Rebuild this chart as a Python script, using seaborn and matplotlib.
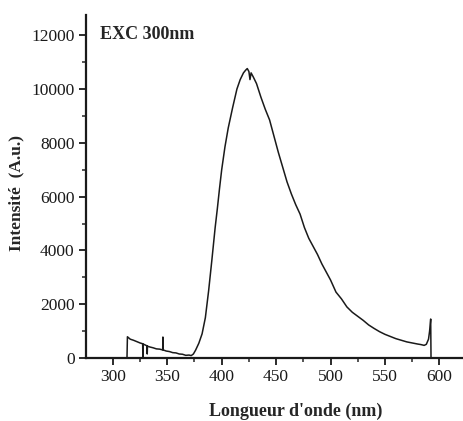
"""
Emission spectrum, excitation at 300 nm.
Values read off the scanned figure by eye.
"""
import numpy as np
import pandas as pd
import seaborn as sns
from matplotlib import pyplot as plt
from matplotlib.ticker import MultipleLocator

# wavelength (nm) and intensity (a.u.)
wavelength = [313.0, 313.4, 316, 319, 322, 325, 327.4, 327.6, 327.8, 330, 331.4, 331.6, 331.8,
              334, 337, 340, 343, 345.8, 346.0, 346.3, 349, 352, 355, 358, 361, 364, 367,
              370, 372, 374, 376, 379, 382, 385, 388, 391, 394, 396, 398, 400, 403, 406,
              410, 414, 417, 420, 422, 423.5, 425, 426, 427, 429, 432, 436, 440, 444, 448,
              452, 456, 460, 464, 468, 472, 476, 480, 484, 488, 492, 496, 500, 505, 510,
              515, 520, 525, 530, 535, 540, 545, 550, 555, 560, 565, 570, 575, 580, 583,
              586, 588, 590, 591, 592, 592.3]
intensity = [0, 790, 700, 660, 610, 560, 530, 0, 520, 480, 450, 150, 440,
             410, 380, 340, 330, 300, 780, 300, 260, 240, 200, 190, 150, 140, 100,
             110, 90, 150, 290, 550, 900, 1500, 2500, 3650, 4850, 5550, 6300, 7000, 7850, 8550,
             9300, 10000, 10350, 10600, 10700, 10760, 10650, 10350, 10600, 10450, 10200, 9700, 9250, 8850, 8250,
             7650, 7100, 6550, 6100, 5700, 5350, 4850, 4450, 4150, 3850, 3500, 3200, 2900, 2450, 2200,
             1900, 1700, 1550, 1400, 1230, 1100, 980, 880, 800, 720, 660, 600, 560, 520, 500,
             470, 510, 700, 1000, 1450, 0]

x_ticks = [300, 350, 400, 450, 500, 550, 600]
y_ticks = [0, 2000, 4000, 6000, 8000, 10000, 12000]

df = pd.DataFrame({'wl': wavelength, 'I': intensity})

sns.set_style('ticks')
plt.rcParams['font.family'] = ['Liberation Serif', 'DejaVu Serif']

fig = plt.figure(figsize=(4.64, 4.21), dpi=100)
ax = fig.add_axes([0.185, 0.1496, 0.815, 0.8147])

sns.lineplot(data=df, x='wl', y='I', ax=ax, sort=False, estimator=None,
             color='#1a1a1a', linewidth=1.1)

ax.set_xlim(275.2, 622.6)
ax.set_ylim(0, 12750)
ax.set_xticks(x_ticks)
ax.set_yticks(y_ticks)
ax.xaxis.set_minor_locator(MultipleLocator(25))
ax.yaxis.set_minor_locator(MultipleLocator(1000))
ax.tick_params(which='major', direction='out', length=5, width=1.3, labelsize=12.5,
               colors='#1a1a1a', pad=3)
ax.tick_params(which='minor', direction='out', length=3, width=1.1)

sns.despine(ax=ax)
for side in ['left', 'bottom']:
    ax.spines[side].set_linewidth(1.6)
    ax.spines[side].set_color('#1a1a1a')

ax.set_xlabel("Longueur d'onde (nm)", fontsize=13, fontweight='bold')
ax.set_ylabel("Intensité  (A.u.)", fontsize=12.5, fontweight='bold')
ax.xaxis.set_label_coords(0.555, -0.13)
ax.yaxis.set_label_coords(-0.162, 0.48)

ax.text(0.037, 0.942, 'EXC 300nm', transform=ax.transAxes, fontsize=13,
        fontweight='bold', va='center', ha='left')

plt.savefig('out.png', dpi=100)
